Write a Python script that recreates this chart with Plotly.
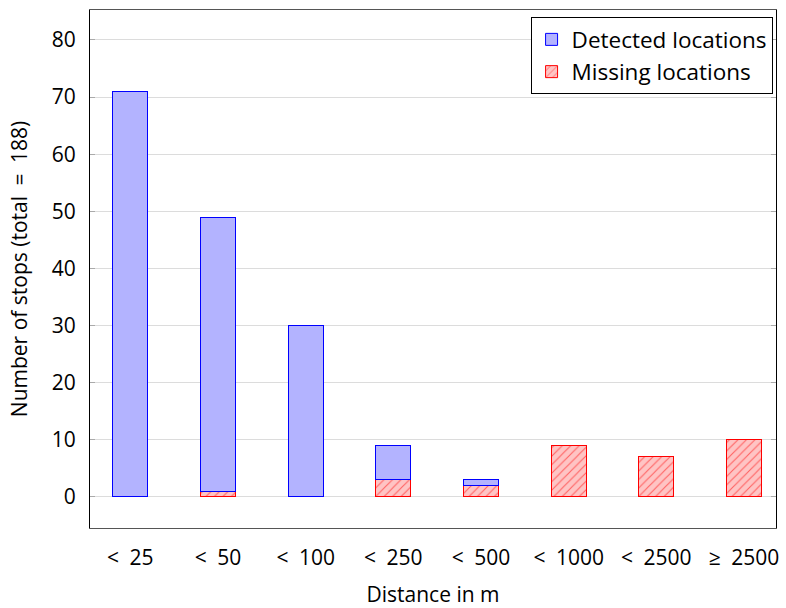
import plotly.graph_objects as go

categories = ["<\u200225", "<\u200250", "<\u2002100", "<\u2002250", "<\u2002500", "<\u20021000", "<\u20022500", "≥\u20022500"]
detected = [71, 48, 30, 6, 1, 0, 0, 0]
missing = [0, 1, 0, 3, 2, 9, 7, 10]
y_ticks = [0, 10, 20, 30, 40, 50, 60, 70, 80]

def nz(v):
    return [x if x != 0 else None for x in v]

xs = list(range(len(categories)))
FONT = "Open Sans"

fig = go.Figure()
fig.add_trace(go.Bar(
    x=xs, y=nz(missing), name="Missing locations", width=0.4,
    marker=dict(color="#ffc4c4", line=dict(color="red", width=1),
                pattern=dict(shape="/", fgcolor="red", size=6, solidity=0.18, fillmode="overlay")),
))
fig.add_trace(go.Bar(
    x=xs, y=nz(detected), name="Detected locations", width=0.4,
    marker=dict(color="#b3b3ff", line=dict(color="blue", width=1)),
))

fig.update_layout(
    barmode="stack",
    width=786, height=608,
    margin=dict(l=90, r=10, t=10, b=80, autoexpand=False),
    paper_bgcolor="white", plot_bgcolor="white",
    font=dict(family=FONT, size=18, color="black"),
    legend=dict(x=0.995, y=0.986, xanchor="right", yanchor="top",
                bordercolor="black", borderwidth=1, bgcolor="white",
                traceorder="reversed", font=dict(size=22.5)),
    xaxis=dict(range=[-0.46, 7.365], tickmode="array", tickvals=xs, ticktext=categories,
               showgrid=False, ticks="", showline=True, linecolor="#555", linewidth=1, mirror=True,
               ticklabelstandoff=11,
               title=dict(text="Distance in m", standoff=20, font=dict(size=21)), tickfont=dict(size=21),
               zeroline=False),
    yaxis=dict(range=[-5.43, 85.25], tickmode="array", tickvals=y_ticks,
               showgrid=True, gridcolor="#dcdcdc", gridwidth=1,
               ticks="inside", ticklen=5, tickcolor="#aaaaaa", showline=True, linecolor="black",
               linewidth=1, mirror="ticks", zeroline=False, ticklabelstandoff=9,
               title=dict(text="Number of stops (total\u2002=\u2002188)", standoff=18, font=dict(size=21)),
               tickfont=dict(size=21)),
)

fig.write_html("out.html", config={"displayModeBar": False},
               post_script="document.body.style.margin='0px';")
